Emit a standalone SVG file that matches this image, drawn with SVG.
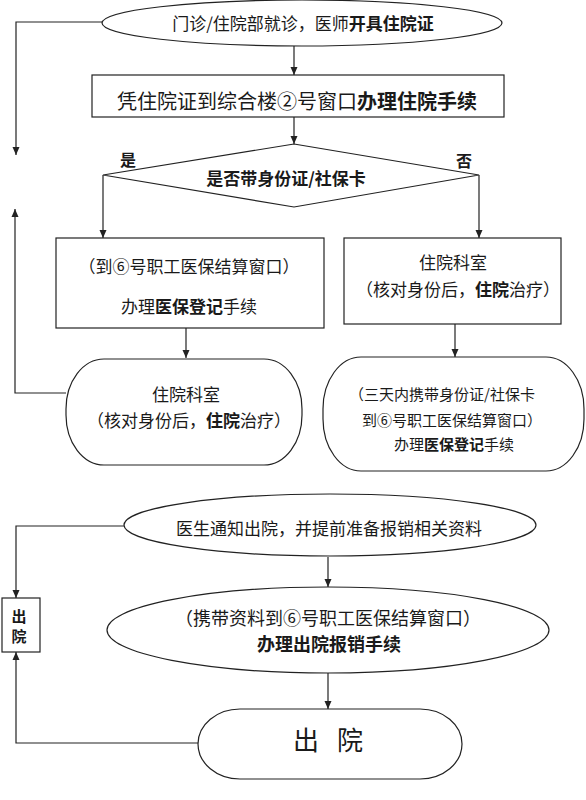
<svg xmlns="http://www.w3.org/2000/svg" width="586" height="800" viewBox="0 0 586 800">
<style>
.s{fill:#fff;stroke:#222;stroke-width:1.2}
.c{fill:none;stroke:#222;stroke-width:1.2}
text{font-family:"Noto Sans CJK SC","Noto Sans",sans-serif;fill:#1a1a1a;text-anchor:middle;dominant-baseline:central}
.b{font-weight:bold}
</style>
<defs>
<marker id="ah" markerUnits="userSpaceOnUse" markerWidth="8" markerHeight="8" refX="8" refY="4" orient="auto">
<path d="M0,0.5 L8,4 L0,7.5 z" fill="#222"/>
</marker>
</defs>
<g id="connectors">
<path class="c" d="M102,22 H16 V155" marker-end="url(#ah)"/>
<path class="c" d="M294,46 V75" marker-end="url(#ah)"/>
<path class="c" d="M294,117 V144" marker-end="url(#ah)"/>
<path class="c" d="M103,175 V238" marker-end="url(#ah)"/>
<path class="c" d="M479,175 V238" marker-end="url(#ah)"/>
<path class="c" d="M186,328 V358" marker-end="url(#ah)"/>
<path class="c" d="M455,324 V357" marker-end="url(#ah)"/>
<path class="c" d="M66,393 H15 V209" marker-end="url(#ah)"/>
<path class="c" d="M124,526 H16 V598" marker-end="url(#ah)"/>
<path class="c" d="M328,557 V587" marker-end="url(#ah)"/>
<path class="c" d="M328,673 V709" marker-end="url(#ah)"/>
<path class="c" d="M198,743 H16 V652" marker-end="url(#ah)"/>
</g>
<g id="n1">
<ellipse class="s" cx="302" cy="23" rx="200" ry="23"/>
<text x="303" y="22" font-size="17">门诊/住院部就诊，医师<tspan class="b">开具住院证</tspan></text>
</g>
<g id="n2">
<rect class="s" x="92" y="75" width="412" height="42"/>
<text x="297" y="100" font-size="20">凭住院证到综合楼②号窗口<tspan class="b">办理住院手续</tspan></text>
</g>
<g id="n3">
<polygon class="s" points="294,144 479,175 294,207 103,175"/>
<text x="286" y="177" font-size="17" class="b">是否带身份证/社保卡</text>
<text x="128" y="159" font-size="16" class="b">是</text>
<text x="464" y="160" font-size="16" class="b">否</text>
</g>
<g id="n4">
<rect class="s" x="56" y="238" width="268" height="90"/>
<text x="189" y="265" font-size="17">（到⑥号职工医保结算窗口）</text>
<text x="189" y="305" font-size="17">办理<tspan class="b">医保登记</tspan>手续</text>
</g>
<g id="n5">
<rect class="s" x="344" y="238" width="217" height="86"/>
<text x="453" y="261" font-size="17">住院科室</text>
<text x="458" y="288" font-size="17">（核对身份后，<tspan class="b">住院</tspan>治疗）</text>
</g>
<g id="n6">
<rect class="s" x="66" y="359" width="236" height="106" rx="38" ry="50"/>
<text x="186" y="393" font-size="17">住院科室</text>
<text x="189" y="419" font-size="17">（核对身份后，<tspan class="b">住院</tspan>治疗）</text>
</g>
<g id="n7">
<rect class="s" x="323" y="357" width="261" height="114" rx="38" ry="52"/>
<text x="442" y="393" font-size="15">（三天内携带身份证/社保卡</text>
<text x="452" y="419" font-size="15">到⑥号职工医保结算窗口）</text>
<text x="454" y="443" font-size="15">办理<tspan class="b">医保登记</tspan>手续</text>
</g>
<g id="n8">
<ellipse class="s" cx="330" cy="525" rx="206" ry="31"/>
<text x="329" y="527" font-size="17">医生通知出院，并提前准备报销相关资料</text>
</g>
<g id="n9">
<rect class="s" x="2" y="598" width="38" height="54"/>
<text x="19" y="615" font-size="15" class="b">出</text>
<text x="19" y="635" font-size="15" class="b">院</text>
</g>
<g id="n10">
<ellipse class="s" cx="328" cy="630" rx="221" ry="43"/>
<text x="328" y="617" font-size="18">（携带资料到⑥号职工医保结算窗口）</text>
<text x="329" y="643" font-size="18" class="b">办理出院报销手续</text>
</g>
<g id="n11">
<rect class="s" x="198" y="709" width="264" height="70" rx="42" ry="35"/>
<text x="331" y="738" font-size="26" letter-spacing="6">出 院</text>
</g>
</svg>
